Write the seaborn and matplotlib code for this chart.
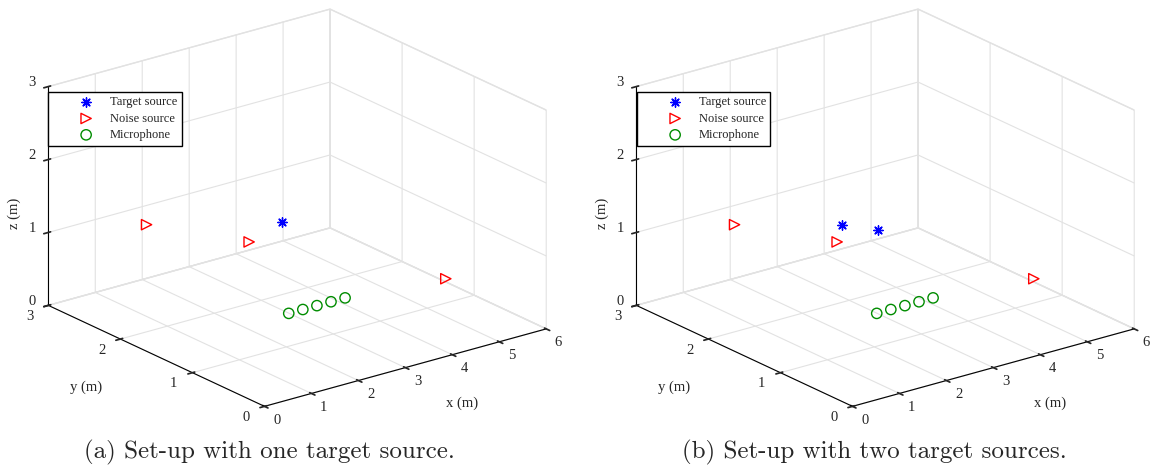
import matplotlib
matplotlib.use("Agg")
import matplotlib.pyplot as plt
from mpl_toolkits.mplot3d import proj3d
import seaborn as sns

# Room dimensions (m)
room_x = [0, 6]
room_y = [0, 3]
room_z = [0, 3]
x_ticks = [0, 1, 2, 3, 4, 5, 6]
y_ticks = [0, 1, 2, 3]
z_ticks = [0, 1, 2, 3]

# Microphone array (uniform linear array along x)
mic_x = [0.9, 1.2, 1.5, 1.8, 2.1]
mic_y = [0.25, 0.25, 0.25, 0.25, 0.25]
mic_z = [1.0, 1.0, 1.0, 1.0, 1.0]

# Noise sources (same in both set-ups)
noise_x = [1.54, 2.42, 4.0]
noise_y = [2.64, 1.79, 0.09]
noise_z = [1.0, 1.0, 1.0]

# Target sources
target_a_x = [3.45]
target_a_y = [2.00]
target_a_z = [1.0]
target_b_x = [2.96, 3.31]
target_b_y = [2.08, 1.80]
target_b_z = [1.0, 1.0]

captions = ["(a) Set-up with one target source.",
            "(b) Set-up with two target sources."]
legend_labels = ["Target source", "Noise source", "Microphone"]
axis_labels = ["x (m)", "y (m)", "z (m)"]

sns.set_theme(style="white")
plt.rcParams["font.family"] = ["Liberation Serif", "DejaVu Serif"]

blue, red, green = "#0000ff", "#ff0000", "#008c00"
grid_col = "#e2e2e2"
text_col = "#262626"
tick_fs = 10.5

W, H = 1156, 469
fig = plt.figure(figsize=(W / 100, H / 100), dpi=100)

# per panel: targets, axes centre x, legend left, caption centre, x offset
panels = [
    (target_a_x, target_a_y, target_a_z, 290, 48, 269, 0),
    (target_b_x, target_b_y, target_b_z, 878, 637, 874, 588),
]

axes = []
size_px = 538
for k, (tx, ty, tz, cx, leg_x, cap_x, off) in enumerate(panels):
    cy = 215
    ax = fig.add_axes([(cx - size_px / 2) / W, 1 - (cy + size_px / 2) / H,
                       size_px / W, size_px / H], projection="3d")
    axes.append(ax)
    ax.set_proj_type("ortho")
    ax.view_init(elev=21, azim=-127.5)
    ax.set_box_aspect((1, 1, 0.66), zoom=1.0)
    ax.set_xlim(room_x[0], room_x[1] + 1e-9)
    ax.set_ylim(room_y[0], room_y[1] + 1e-9)
    ax.set_zlim(room_z[0], room_z[1] + 1e-9)
    ax.set_xticks(x_ticks)
    ax.set_yticks(y_ticks)
    ax.set_zticks(z_ticks)
    ax.set_xticklabels([])
    ax.set_yticklabels([])
    ax.set_zticklabels([])
    for axis in (ax.xaxis, ax.yaxis, ax.zaxis):
        axis.set_pane_color((1, 1, 1, 1))
        axis.pane.set_edgecolor(grid_col)
        axis._axinfo["grid"]["color"] = grid_col
        axis._axinfo["grid"]["linewidth"] = 0.8
        axis._axinfo["axisline"]["color"] = "black"
        axis._axinfo["tick"]["color"] = "black"
        axis.line.set_color("black")
        axis.line.set_linewidth(0.8)
    ax.grid(True)

    h1 = ax.scatter(tx, ty, tz, marker=(8, 2, 0), s=45, c=blue,
                    linewidths=1.0, depthshade=False)
    h2 = ax.scatter(noise_x, noise_y, noise_z, marker=">", s=55,
                    facecolors="none", edgecolors=red, linewidths=1.0,
                    depthshade=False)
    h3 = ax.scatter(mic_x, mic_y, mic_z, marker="o", s=55,
                    facecolors="none", edgecolors=green, linewidths=1.0,
                    depthshade=False)

    # axis titles
    fig.text((462 + off) / W, 1 - 403 / H, axis_labels[0], ha="center",
             va="center", fontsize=10.5, color=text_col)
    fig.text((86 + off) / W, 1 - 387 / H, axis_labels[1], ha="center",
             va="center", fontsize=10.5, color=text_col)
    fig.text((14 + off) / W, 1 - 213 / H, axis_labels[2], ha="center",
             va="center", fontsize=10.5, rotation=90, color=text_col)

    fig.legend([h1, h2, h3], legend_labels, loc="upper left",
               bbox_to_anchor=(leg_x / W, 1 - 92 / H), fontsize=9,
               frameon=True, fancybox=False, edgecolor="black",
               framealpha=1, borderpad=0.35, handlelength=5.4,
               handletextpad=-0.8, labelspacing=0.35, borderaxespad=0)

    fig.text(cap_x / W, 1 - 452 / H, captions[k], ha="center",
             va="center", fontsize=18, family="cmr10")

# tick labels: project a point just outside each axis line to 2-D
fig.canvas.draw()


def put_label(ax, x, y, z, s):
    px, py, _ = proj3d.proj_transform(x, y, z, ax.get_proj())
    ax.text2D(px, py, s, transform=ax.transData, ha="center", va="center",
              fontsize=tick_fs, color=text_col)


for ax in axes:
    for v in x_ticks:
        put_label(ax, v, room_y[0] - 0.17, room_z[0] - 0.11, f"{v}")
    for v in y_ticks:
        put_label(ax, room_x[0] - 0.4, v, room_z[0] - 0.08, f"{v}")
    for v in z_ticks:
        put_label(ax, room_x[0] - 0.1, room_y[1] + 0.16, v, f"{v}")

fig.savefig("out.png", dpi=100)
